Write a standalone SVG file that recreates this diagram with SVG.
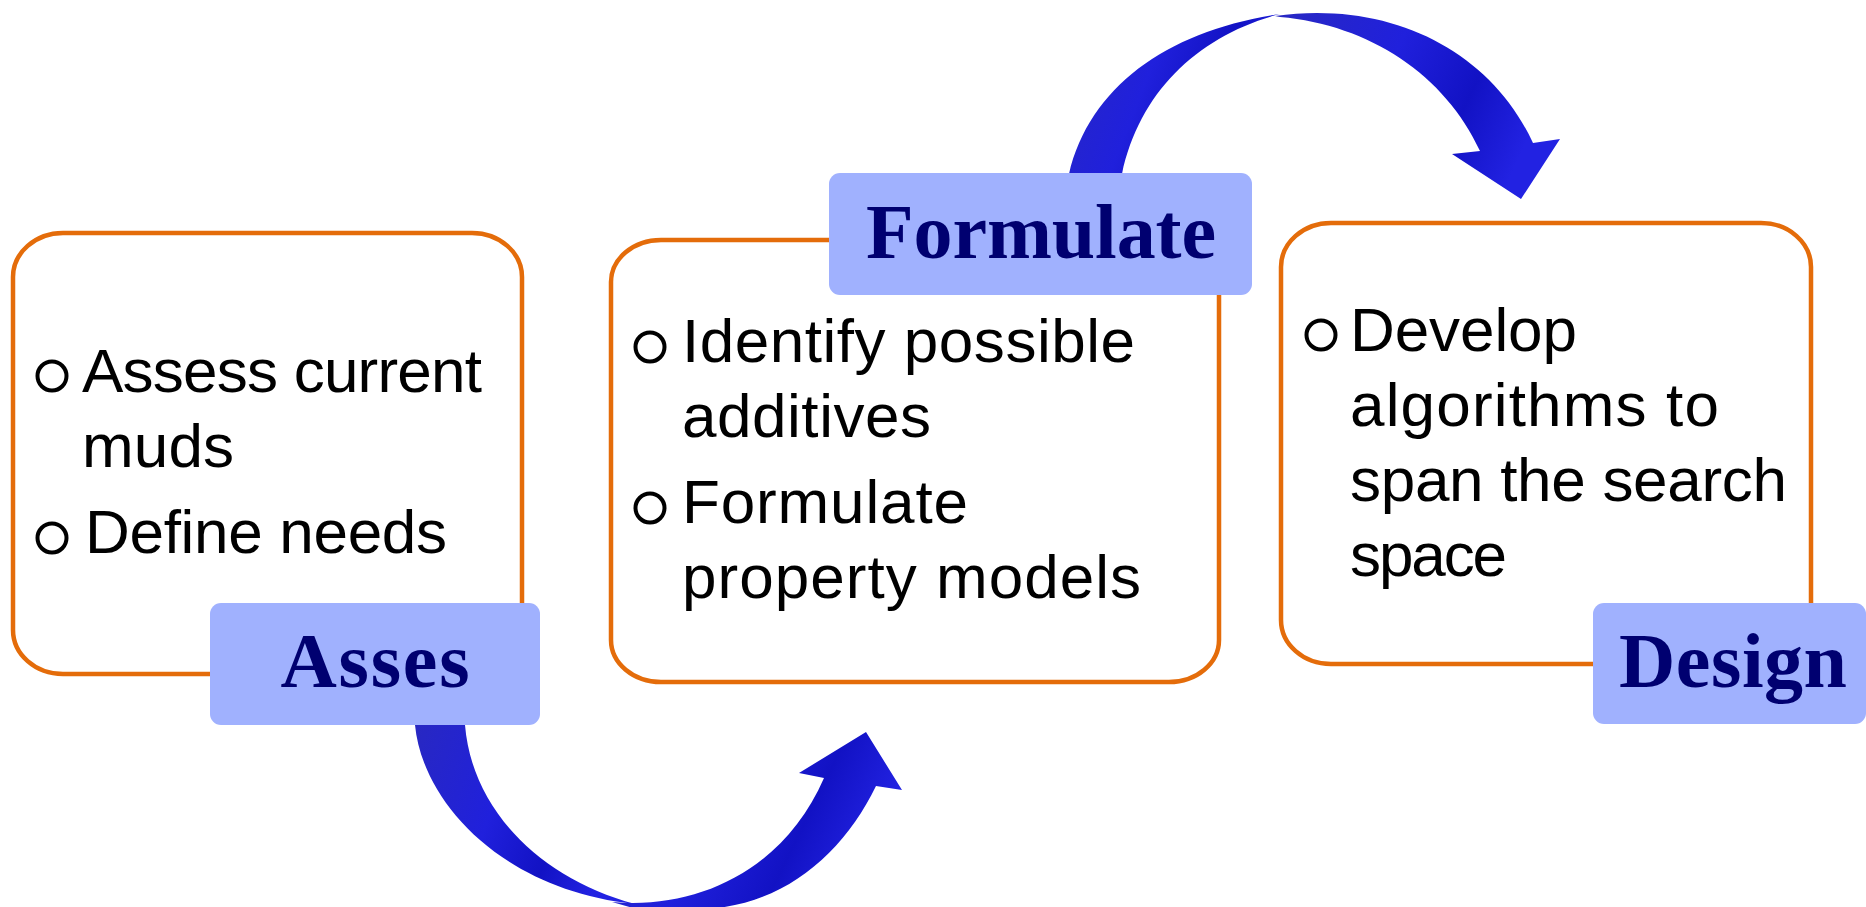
<svg xmlns="http://www.w3.org/2000/svg" width="1866" height="907" viewBox="0 0 1866 907">
<defs>
<style>
.box{fill:#ffffff;stroke:#E46C0A;stroke-width:4.5}
.lbl{fill:#A0B1FE}
.lt{font-family:"Liberation Serif","Times New Roman",serif;font-weight:bold;font-size:78px;fill:#000070;text-anchor:middle}
.bt{font-family:"Liberation Sans",Arial,sans-serif;font-size:62px;fill:#000000}
.bul{fill:none;stroke:#000000;stroke-width:4}
.arr{fill:url(#ag)}
</style>
<linearGradient id="ag" x1="0" y1="0" x2="1" y2="0.3">
<stop offset="0" stop-color="#2828C2"/>
<stop offset="0.45" stop-color="#2020DC"/>
<stop offset="0.75" stop-color="#1212C4"/>
<stop offset="1" stop-color="#2222E2"/>
</linearGradient>
</defs>
<rect width="1866" height="907" fill="#ffffff"/>

<g id="box-asses">
<rect class="box" x="13" y="233" width="509" height="441" rx="50" ry="44"/>
<circle class="bul" cx="52" cy="376" r="14.5"/>
<text class="bt" x="82" y="392" textLength="400">Assess current</text>
<text class="bt" x="82" y="467" textLength="152">muds</text>
<circle class="bul" cx="52" cy="538" r="14.5"/>
<text class="bt" x="85" y="553" textLength="362">Define needs</text>
</g>

<g id="box-formulate">
<rect class="box" x="611" y="240" width="608" height="442" rx="50" ry="42"/>
<circle class="bul" cx="650" cy="347" r="14.5"/>
<text class="bt" x="682" y="362" textLength="453">Identify possible</text>
<text class="bt" x="682" y="437" textLength="249">additives</text>
<circle class="bul" cx="650" cy="508" r="14.5"/>
<text class="bt" x="682" y="523" textLength="286">Formulate</text>
<text class="bt" x="682" y="598" textLength="459">property models</text>
</g>

<g id="box-design">
<rect class="box" x="1281" y="223" width="530" height="441" rx="50" ry="44"/>
<circle class="bul" cx="1321" cy="335" r="14.5"/>
<text class="bt" x="1350" y="351" textLength="227">Develop</text>
<text class="bt" x="1350" y="426" textLength="369">algorithms to</text>
<text class="bt" x="1350" y="501" textLength="437">span the search</text>
<text class="bt" x="1350" y="576" textLength="157">space</text>
</g>

<g id="connectors">
<path class="arr" d="M415 725 C422 800 500 890 635 904 C540 878 472 810 465 725 Z"/>
<path class="arr" d="M612 902 C700 910 785 868 824 778 L799 773 L866 732 L902 790 L876 786 C845 850 790 900 717 908 L640 910 Z"/>
<path class="arr" d="M1069 174 C1090 85 1170 30 1280 14 C1200 35 1140 90 1122 174 Z"/>
<path class="arr" d="M1275 16 C1390 0 1490 50 1533 143 L1560 139 L1521 199 L1452 154 L1480 151 C1445 75 1370 25 1280 17 Z"/>
</g>

<g id="label-asses">
<rect class="lbl" x="210" y="603" width="330" height="122" rx="11"/>
<text class="lt" x="375" y="687" textLength="189">Asses</text>
</g>

<g id="label-formulate">
<rect class="lbl" x="829" y="173" width="423" height="122" rx="11"/>
<text class="lt" x="1041" y="258" textLength="350">Formulate</text>
</g>

<g id="label-design">
<rect class="lbl" x="1593" y="603" width="273" height="121" rx="11"/>
<text class="lt" x="1733" y="687" textLength="228">Design</text>
</g>
</svg>
